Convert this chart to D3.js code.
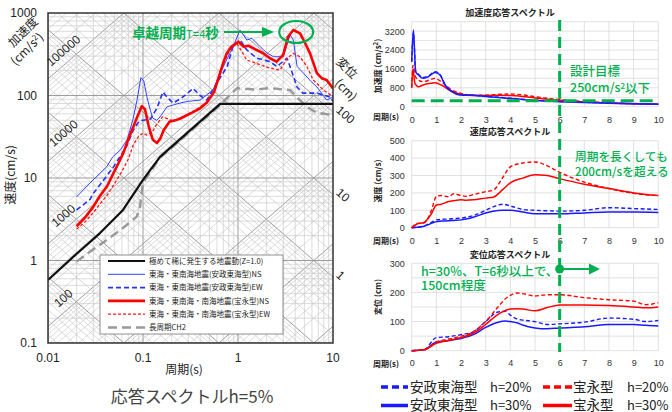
<!DOCTYPE html>
<html>
<head>
<meta charset="utf-8">
<script src="https://cdn.jsdelivr.net/npm/d3@7"></script>
<style>
  body { margin: 0; background: #fff; }
  svg { display: block; font-family: "Liberation Sans", Arial, "Noto Sans CJK JP", sans-serif; }
  .jp { font-family: "Noto Sans CJK JP", sans-serif; }
</style>
</head>
<body>
<svg id="chart" width="672" height="412"></svg>
<script>
// ---------- left chart : tripartite response spectrum (h=5%) ----------
const periodTicks = [0.01, 0.1, 1, 10];
const velTicks = [0.1, 1, 10, 100, 1000];
const accLabels = [100, 1000, 10000, 100000];
const dispLabels = [1, 10, 100];

const designT = [0.01, 0.0183, 0.0353, 0.0616, 0.1, 0.151, 0.29, 0.65, 10];
const designSv = [0.58, 1.1, 2.15, 4.1, 9.5, 18, 35, 79, 79];

const longT = [0.02, 0.0277, 0.0415, 0.0615, 0.086, 0.093, 0.1, 0.15, 0.29, 0.65, 0.78, 0.98, 1.5, 2.2, 3.0, 3.5, 4.5, 5.3, 6.7, 10];
const longSv = [0.97, 1.28, 1.77, 2.48, 3.4, 4.5, 8.7, 17.5, 34, 77, 95, 123, 118, 123, 118, 117, 88, 73, 62, 58];

const ansNsT = [0.02, 0.0277, 0.0415, 0.048, 0.058, 0.068, 0.078, 0.0865, 0.095, 0.102, 0.11, 0.12, 0.127, 0.14, 0.151, 0.179, 0.245, 0.3, 0.4, 0.546, 0.695, 0.886, 1.05, 1.24, 1.4, 1.71, 2.02, 2.37, 2.99, 3.53, 3.82, 4.19, 4.88, 5.8, 6.77, 8.57, 10];
const ansNsSv = [5.9, 8.7, 13.7, 18, 22, 29, 50, 88, 165, 150, 96, 65, 53, 50, 55, 73, 81, 85, 88, 117, 221, 387, 622, 471, 493, 391, 327, 295, 295, 541, 471, 225, 187, 150, 127, 88, 96];

const ansEwT = [0.02, 0.0277, 0.03, 0.04, 0.049, 0.067, 0.079, 0.09, 0.1, 0.12, 0.14, 0.162, 0.18, 0.207, 0.25, 0.29, 0.336, 0.4, 0.47, 0.6, 0.77, 0.886, 1.05, 1.24, 1.58, 2.17, 2.57, 3.28, 3.53, 4.18, 4.83, 6.77, 9.3, 10];
const ansEwSv = [4.1, 5.5, 6.5, 10, 13.7, 24, 38, 48, 50, 52, 70, 110, 95, 81, 92, 105, 122, 100, 88, 142, 225, 391, 471, 356, 283, 257, 225, 283, 225, 127, 107, 107, 96, 85];

const hoeiNsT = [0.02, 0.025, 0.03, 0.035, 0.042, 0.048, 0.055, 0.062, 0.068, 0.078, 0.088, 0.097, 0.105, 0.115, 0.127, 0.14, 0.152, 0.165, 0.19, 0.22, 0.25, 0.31, 0.4, 0.47, 0.56, 0.647, 0.7, 0.76, 0.85, 1.01, 1.14, 1.3, 1.57, 1.8, 2.17, 2.55, 2.99, 3.37, 3.82, 4.5, 5.1, 5.73, 6.77, 7.6, 8.57, 10];
const hoeiNsSv = [2.6, 3.4, 4.5, 6.0, 8.0, 11, 15, 20, 27, 40, 57, 74, 68, 42, 29, 26.5, 30, 38, 48, 50, 53, 60, 70, 82, 110, 187, 250, 324, 390, 449, 391, 400, 356, 330, 283, 257, 310, 516, 622, 567, 430, 324, 187, 162, 154, 122];

const hoeiEwT = [0.02, 0.025, 0.03, 0.035, 0.042, 0.05, 0.06, 0.07, 0.08, 0.09, 0.1, 0.11, 0.125, 0.14, 0.16, 0.2, 0.25, 0.3, 0.35, 0.47, 0.55, 0.65, 0.82, 0.97, 1.1, 1.23, 1.57, 2.17, 2.77, 3.3, 3.82, 4.5, 5.3, 6.2, 7.9, 10];
const hoeiEwSv = [2.4, 3.0, 3.8, 4.8, 6.2, 8.5, 12, 17, 26, 32, 35, 33, 36, 45, 55, 50, 52, 60, 66, 82, 105, 200, 356, 430, 340, 270, 245, 214, 204, 283, 324, 295, 225, 154, 117, 97];

const legendNames = [
  '極めて稀に発生する地震動(Z=1.0)',
  '東海・東南海地震(安政東海型)NS',
  '東海・東南海地震(安政東海型)EW',
  '東海・東南海・南海地震(宝永型)NS',
  '東海・東南海・南海地震(宝永型)EW',
  '長周期CH2'
];

// ---------- right charts : linear response spectra ----------
const linPeriods = [0, 1, 2, 3, 4, 5, 6, 7, 8, 9, 10];
const accTicks = [0, 800, 1600, 2400, 3200];
const velTicksR = [0, 100, 200, 300, 400, 500];
const dispTicks = [0, 100, 200, 300];

const accBlueT = [0, 0.07, 0.16, 0.27, 0.47, 0.67, 0.95, 1.15, 1.35, 1.62, 1.96, 2.43, 3, 4, 5, 6, 7, 8, 9, 10];
const accBlue30 = [1900, 3250, 1480, 1340, 1200, 1270, 1450, 1340, 920, 640, 500, 480, 430, 350, 260, 210, 180, 150, 120, 100];
const accBlue20 = [1900, 3150, 1520, 1380, 1240, 1300, 1480, 1360, 950, 660, 510, 490, 440, 360, 270, 220, 185, 155, 125, 105];
const accRedT = [0, 0.05, 0.13, 0.27, 0.47, 0.7, 0.95, 1.2, 1.6, 2.0, 2.5, 3, 3.5, 4, 4.5, 5, 6, 7, 8, 9, 10];
const accRed30 = [800, 1600, 990, 850, 920, 980, 1016, 920, 665, 525, 470, 470, 480, 470, 430, 370, 270, 200, 160, 130, 100];
const accRed20 = [800, 1750, 1340, 1130, 1060, 1120, 1200, 1060, 720, 560, 490, 490, 520, 540, 500, 420, 300, 220, 170, 135, 110];

const velT = [0, 0.2, 0.5, 0.8, 1, 1.2, 1.5, 1.7, 2, 2.2, 2.5, 3, 3.3, 3.7, 4, 4.5, 5, 5.5, 6, 7, 8, 9, 10];
const velRed20 = [0, 25, 28, 100, 180, 185, 178, 195, 185, 180, 190, 207, 215, 290, 350, 372, 378, 355, 318, 262, 225, 197, 185];
const velRed30 = [0, 20, 30, 80, 130, 135, 150, 155, 160, 158, 160, 170, 175, 220, 258, 285, 305, 300, 282, 250, 225, 200, 185];
const velBlue20 = [0, 3, 10, 30, 45, 48, 50, 52, 55, 60, 70, 100, 120, 135, 125, 105, 100, 97, 95, 100, 115, 110, 105];
const velBlue30 = [0, 2, 8, 25, 35, 38, 40, 42, 45, 50, 60, 85, 95, 100, 100, 90, 80, 80, 80, 85, 90, 90, 88];

const dispT = [0, 0.5, 1, 1.5, 2, 2.5, 3, 3.5, 3.8, 4, 4.3, 4.5, 5, 5.5, 6, 7, 8, 9, 9.5, 10];
const dispRed20 = [0, 3, 30, 40, 50, 65, 100, 150, 178, 190, 198, 196, 188, 192, 192, 182, 175, 170, 158, 165];
const dispRed30 = [0, 3, 25, 35, 45, 60, 90, 125, 138, 143, 144, 143, 137, 148, 157, 157, 155, 150, 147, 150];
const dispBlue20 = [0, 3, 45, 48, 55, 65, 100, 133, 135, 122, 108, 105, 100, 90, 92, 98, 112, 108, 100, 104];
const dispBlue30 = [0, 3, 30, 35, 42, 55, 80, 98, 102, 100, 95, 88, 78, 75, 78, 82, 90, 90, 87, 85];

const designPeriod = 6;     // vertical green marker
const accTarget = 250;      // design target line

const GREEN = '#00b050';
const svg = d3.select('#chart');
const defs = svg.append('defs');

// ================= left chart =================
const tx = d3.scaleLog().domain([0.01, 10]).range([48, 333]);
const sy = d3.scaleLog().domain([0.1, 1000]).range([343, 13]);
const TWO_PI = 2 * Math.PI;

defs.append('clipPath').attr('id', 'clipL')
  .append('rect').attr('x', 48).attr('y', 13).attr('width', 285).attr('height', 330);

function decadeVals(lo, hi) {
  const out = [];
  for (let e = lo; e <= hi; e++)
    for (let k = 1; k < 10; k++) out.push({ v: k * Math.pow(10, e), major: k === 1 });
  return out;
}

const grid = svg.append('g').attr('clip-path', 'url(#clipL)');
const gStroke = d => d.major ? '#939393' : '#c4c4c4';
const gWidth = d => d.major ? 0.9 : 0.6;

// diagonals: acceleration (up-right) and displacement (down-right)
grid.selectAll('.acc').data(decadeVals(-2, 5)).enter().append('line')
  .attr('x1', tx(0.01)).attr('y1', d => sy(d.v * 0.01 / TWO_PI))
  .attr('x2', tx(10)).attr('y2', d => sy(d.v * 10 / TWO_PI))
  .attr('stroke', gStroke).attr('stroke-width', gWidth);
grid.selectAll('.disp').data(decadeVals(-4, 3)).enter().append('line')
  .attr('x1', tx(0.01)).attr('y1', d => sy(TWO_PI * d.v / 0.01))
  .attr('x2', tx(10)).attr('y2', d => sy(TWO_PI * d.v / 10))
  .attr('stroke', gStroke).attr('stroke-width', gWidth);
grid.selectAll('.vx').data(decadeVals(-2, 0)).enter().append('line')
  .attr('x1', d => tx(d.v)).attr('x2', d => tx(d.v))
  .attr('y1', 13).attr('y2', 343)
  .attr('stroke', gStroke).attr('stroke-width', gWidth);
grid.selectAll('.hy').data(decadeVals(-1, 2)).enter().append('line')
  .attr('y1', d => sy(d.v)).attr('y2', d => sy(d.v))
  .attr('x1', 48).attr('x2', 333)
  .attr('stroke', gStroke).attr('stroke-width', gWidth);

// diagonal scale labels
const accLabelT = 0.0145;
svg.selectAll('.accLab').data(accLabels).enter().append('text')
  .attr('transform', d => `translate(${tx(accLabelT)},${sy(d * accLabelT / TWO_PI) - 15}) rotate(-41)`)
  .attr('text-anchor', 'middle').attr('dy', '0.35em')
  .attr('font-size', 12).attr('fill', '#222').text(d => d);
svg.selectAll('.dispLab').data(dispLabels).enter().append('text')
  .attr('transform', d => `translate(${tx(10) + 5},${sy(TWO_PI * d / 10) - 4}) rotate(41)`)
  .attr('text-anchor', 'start').attr('dy', '0.35em')
  .attr('font-size', 12).attr('fill', '#222').text(d => d);

// curves
const lineL = d3.line().x(d => tx(d[0])).y(d => sy(d[1]));
const leftSeries = [
  { t: longT, v: longSv, color: '#999', w: 2.4, dash: '9,5' },
  { t: designT, v: designSv, color: '#111', w: 2.2, dash: null },
  { t: ansEwT, v: ansEwSv, color: '#2233ff', w: 1.6, dash: '5,3' },
  { t: ansNsT, v: ansNsSv, color: '#3344ff', w: 1, dash: null },
  { t: hoeiEwT, v: hoeiEwSv, color: '#ff1a1a', w: 1.3, dash: '3,2' },
  { t: hoeiNsT, v: hoeiNsSv, color: '#ff0000', w: 2.6, dash: null }
];
const curves = svg.append('g').attr('clip-path', 'url(#clipL)');
leftSeries.forEach(s => {
  curves.append('path').datum(d3.zip(s.t, s.v))
    .attr('d', lineL).attr('fill', 'none')
    .attr('stroke', s.color).attr('stroke-width', s.w)
    .attr('stroke-dasharray', s.dash).attr('stroke-linejoin', 'round');
});

// frame
svg.append('rect').attr('x', 48).attr('y', 13).attr('width', 285).attr('height', 330)
  .attr('fill', 'none').attr('stroke', '#333').attr('stroke-width', 1.5);

// axes labels
svg.selectAll('.yl').data(velTicks).enter().append('text')
  .attr('x', 37).attr('y', d => sy(d)).attr('dy', '0.35em')
  .attr('text-anchor', 'end').attr('font-size', 12).attr('fill', '#222')
  .text(d => d);
svg.selectAll('.xl').data(periodTicks).enter().append('text')
  .attr('x', d => tx(d)).attr('y', 358).attr('dy', '0.35em')
  .attr('text-anchor', 'middle').attr('font-size', 12).attr('fill', '#222')
  .text(d => d);

svg.append('text').attr('class', 'jp').attr('x', 184).attr('y', 370).attr('dy', '0.35em')
  .attr('text-anchor', 'middle').attr('font-size', 12).attr('fill', '#222').text('周期(s)');
svg.append('text').attr('class', 'jp')
  .attr('transform', 'translate(11,175) rotate(-90)').attr('dy', '0.35em')
  .attr('text-anchor', 'middle').attr('font-size', 12).attr('fill', '#222').text('速度(cm/s)');
svg.append('text').attr('class', 'jp')
  .attr('transform', 'translate(23,32) rotate(-45)').attr('dy', '0.35em')
  .attr('text-anchor', 'middle').attr('font-size', 12).attr('fill', '#222').text('加速度');
const accUnit = svg.append('text').attr('class', 'jp')
  .attr('transform', 'translate(27,49) rotate(-45)').attr('dy', '0.35em')
  .attr('text-anchor', 'middle').attr('font-size', 12).attr('fill', '#222');
accUnit.append('tspan').text('(cm/s');
accUnit.append('tspan').attr('font-size', 8).attr('dy', '-0.5em').text('2');
accUnit.append('tspan').attr('dy', '0.35em').text(')');
svg.append('text').attr('class', 'jp')
  .attr('transform', 'translate(347,68) rotate(45)').attr('dy', '0.35em')
  .attr('text-anchor', 'middle').attr('font-size', 12).attr('fill', '#222').text('変位');
svg.append('text').attr('class', 'jp')
  .attr('transform', 'translate(346,90) rotate(45)').attr('dy', '0.35em')
  .attr('text-anchor', 'middle').attr('font-size', 12).attr('fill', '#222').text('(cm)');

svg.append('text').attr('class', 'jp').attr('x', 192).attr('y', 397).attr('dy', '0.35em')
  .attr('text-anchor', 'middle').attr('font-size', 17).attr('fill', '#444').text('応答スペクトルh=5%');

// legend
const leg = svg.append('g');
leg.append('rect').attr('x', 100).attr('y', 255).attr('width', 183).attr('height', 79)
  .attr('fill', '#fff').attr('stroke', '#777').attr('stroke-width', 0.8);
const legStyles = [leftSeries[1], leftSeries[3], leftSeries[2], leftSeries[5], leftSeries[4], leftSeries[0]];
legendNames.forEach((name, i) => {
  const y = 261 + i * 13.3;
  const s = legStyles[i];
  leg.append('line').attr('x1', 108).attr('x2', 145).attr('y1', y).attr('y2', y)
    .attr('stroke', s.color).attr('stroke-width', s.w).attr('stroke-dasharray', s.dash);
  leg.append('text').attr('class', 'jp').attr('x', 149).attr('y', y).attr('dy', '0.35em')
    .attr('font-size', 7.5).attr('fill', '#222').text(name);
});

// dominant period annotation
const ann = svg.append('text').attr('class', 'jp').attr('x', 132).attr('y', 33).attr('dy', '0.35em')
  .attr('fill', GREEN).attr('font-weight', 'bold').attr('font-size', 13.5);
ann.append('tspan').text('卓越周期');
ann.append('tspan').attr('font-size', 11).attr('font-weight', 'normal').attr('font-family', 'Liberation Sans, Arial').text('T=4');
ann.append('tspan').text('秒');
svg.append('line').attr('x1', 224).attr('x2', 264).attr('y1', 32).attr('y2', 32)
  .attr('stroke', GREEN).attr('stroke-width', 2);
svg.append('path').attr('d', d3.line()([[262, 27], [274, 32], [262, 37]])).attr('fill', GREEN);
svg.append('ellipse').attr('cx', tx(4.1)).attr('cy', 32).attr('rx', 17).attr('ry', 11)
  .attr('fill', 'none').attr('stroke', GREEN).attr('stroke-width', 2.2);

// ================= right charts =================
const xr = d3.scaleLinear().domain([0, 10]).range([411.7, 658.3]);
const lineKinds = {
  blue20: { color: '#1a1aff', dash: '4,2.5', w: 1.4 },
  blue30: { color: '#1a1aff', dash: null, w: 1.5 },
  red20: { color: '#ff0000', dash: '4,2.5', w: 1.4 },
  red30: { color: '#ff0000', dash: null, w: 1.5 }
};

function panel(cfg) {
  const y = d3.scaleLinear().domain([0, cfg.max]).range([cfg.bottom, cfg.top]);
  const g = svg.append('g');
  g.selectAll('.hg').data(d3.range(0, cfg.max + 0.1, cfg.gridStep)).enter().append('line')
    .attr('x1', xr(0)).attr('x2', xr(10)).attr('y1', d => y(d)).attr('y2', d => y(d))
    .attr('stroke', '#d9d9d9').attr('stroke-width', 0.8);
  g.selectAll('.vg').data(linPeriods).enter().append('line')
    .attr('x1', d => xr(d)).attr('x2', d => xr(d)).attr('y1', y(0)).attr('y2', y(cfg.max))
    .attr('stroke', '#d9d9d9').attr('stroke-width', 0.8);

  const ya = g.append('g').attr('transform', `translate(${xr(0)},0)`)
    .call(d3.axisLeft(y).tickValues(cfg.ticks).tickFormat(d3.format('d')).tickSize(0).tickPadding(7));
  ya.select('.domain').remove();
  ya.selectAll('text').attr('font-size', 9).attr('fill', '#333')
    .attr('font-family', 'Liberation Sans, Arial');
  const xa = g.append('g').attr('transform', `translate(0,${cfg.bottom})`)
    .call(d3.axisBottom(xr).tickValues(linPeriods).tickSize(0).tickPadding(cfg.xPad));
  xa.select('.domain').remove();
  xa.selectAll('text').attr('font-size', 9).attr('fill', '#333')
    .attr('font-family', 'Liberation Sans, Arial');

  g.append('text').attr('class', 'jp').attr('x', 510).attr('y', cfg.titleY).attr('dy', '0.35em')
    .attr('text-anchor', 'middle').attr('font-size', 9).attr('font-weight', 'bold')
    .attr('fill', '#222').text(cfg.title);
  g.append('text').attr('class', 'jp').attr('x', 386).attr('y', cfg.periodY).attr('dy', '0.35em')
    .attr('text-anchor', 'middle').attr('font-size', 8).attr('font-weight', 'bold')
    .attr('fill', '#222').text('周期(s)');
  const yt = g.append('text').attr('class', 'jp')
    .attr('transform', `translate(378,${cfg.yTitleY}) rotate(-90)`).attr('dy', '0.35em')
    .attr('text-anchor', 'middle').attr('font-size', 8).attr('font-weight', 'bold').attr('fill', '#222');
  yt.append('tspan').text(cfg.yTitle);
  if (cfg.sup) {
    yt.append('tspan').attr('font-size', 6).attr('dy', '-0.5em').text(cfg.sup);
    yt.append('tspan').attr('dy', '0.35em').text(')');
  }

  const ln = d3.line().x(d => xr(d[0])).y(d => y(d[1])).curve(d3.curveMonotoneX);
  cfg.series.forEach(s => {
    const k = lineKinds[s.kind];
    g.append('path').datum(d3.zip(s.t, s.v)).attr('d', ln).attr('fill', 'none')
      .attr('stroke', k.color).attr('stroke-width', k.w).attr('stroke-dasharray', k.dash);
  });
  return y;
}

const yAcc = panel({
  top: 21.7, bottom: 106.7, max: 3600, gridStep: 400, ticks: accTicks, xPad: 10,
  title: '加速度応答スペクトル', titleY: 13, periodY: 117, yTitle: '加速度 (cm/s', sup: '2', yTitleY: 66,
  series: [
    { kind: 'red20', t: accRedT, v: accRed20 },
    { kind: 'red30', t: accRedT, v: accRed30 },
    { kind: 'blue20', t: accBlueT, v: accBlue20 },
    { kind: 'blue30', t: accBlueT, v: accBlue30 }
  ]
});
panel({
  top: 140.7, bottom: 227.7, max: 500, gridStep: 100, ticks: velTicksR, xPad: 10,
  title: '速度応答スペクトル', titleY: 132, periodY: 241, yTitle: '速度 (cm/s)', yTitleY: 181,
  series: [
    { kind: 'blue20', t: velT, v: velBlue20 },
    { kind: 'blue30', t: velT, v: velBlue30 },
    { kind: 'red20', t: velT, v: velRed20 },
    { kind: 'red30', t: velT, v: velRed30 }
  ]
});
panel({
  top: 263.3, bottom: 350.7, max: 300, gridStep: 50, ticks: dispTicks, xPad: 9,
  title: '変位応答スペクトル', titleY: 255, periodY: 364, yTitle: '変位 (cm)', yTitleY: 297,
  series: [
    { kind: 'blue20', t: dispT, v: dispBlue20 },
    { kind: 'blue30', t: dispT, v: dispBlue30 },
    { kind: 'red20', t: dispT, v: dispRed20 },
    { kind: 'red30', t: dispT, v: dispRed30 }
  ]
});

// green design markers
svg.append('line').attr('x1', xr(0)).attr('x2', xr(10))
  .attr('y1', yAcc(accTarget)).attr('y2', yAcc(accTarget))
  .attr('stroke', GREEN).attr('stroke-width', 3).attr('stroke-dasharray', '13,6');
svg.append('line').attr('x1', xr(designPeriod)).attr('x2', xr(designPeriod))
  .attr('y1', 20).attr('y2', 352)
  .attr('stroke', GREEN).attr('stroke-width', 3).attr('stroke-dasharray', '11,6');

const gtxt = (x, y, size, parts) => {
  const t = svg.append('text').attr('class', 'jp').attr('x', x).attr('y', y).attr('dy', '0.35em')
    .attr('fill', GREEN).attr('font-size', size).attr('font-weight', 500);
  parts.forEach(p => {
    const s = t.append('tspan').text(p.s);
    if (p.sup) s.attr('font-size', 8).attr('dy', '-0.45em');
    if (p.down) s.attr('dy', '0.3em');
  });
};
gtxt(570, 72, 12.5, [{ s: '設計目標' }]);
gtxt(570, 88, 12.5, [{ s: '250cm/s' }, { s: '2', sup: true }, { s: '以下', down: true }]);
gtxt(575, 157, 11.7, [{ s: '周期を長くしても' }]);
gtxt(575, 172, 11.7, [{ s: '200cm/sを超える' }]);
gtxt(421, 272, 12.5, [{ s: 'h=30%、T=6秒以上で、' }]);
gtxt(421, 286, 12.5, [{ s: '150cm程度' }]);

svg.append('circle').attr('cx', xr(designPeriod)).attr('cy', 269).attr('r', 4.5).attr('fill', GREEN);
svg.append('line').attr('x1', xr(designPeriod)).attr('x2', 592).attr('y1', 269).attr('y2', 269)
  .attr('stroke', GREEN).attr('stroke-width', 2.2);
svg.append('path').attr('d', d3.line()([[589, 263.5], [600, 269], [589, 274.5]])).attr('fill', GREEN);

// bottom legend
const legItems = [
  { kind: 'blue20', name: '安政東海型', h: 'h=20%', col: 0, row: 0 },
  { kind: 'red20', name: '宝永型', h: 'h=20%', col: 1, row: 0 },
  { kind: 'blue30', name: '安政東海型', h: 'h=30%', col: 0, row: 1 },
  { kind: 'red30', name: '宝永型', h: 'h=30%', col: 1, row: 1 }
];
const legCols = [{ x0: 381, x1: 408, tx: 410, hx: 490 }, { x0: 543, x1: 572, tx: 573, hx: 627 }];
legItems.forEach(it => {
  const c = legCols[it.col];
  const y = 387 + it.row * 18.5;
  const k = lineKinds[it.kind];
  svg.append('line').attr('x1', c.x0).attr('x2', c.x1).attr('y1', y).attr('y2', y)
    .attr('stroke', k.color).attr('stroke-width', 3.5)
    .attr('stroke-dasharray', k.dash ? '7,4' : null);
  svg.append('text').attr('class', 'jp').attr('x', c.tx).attr('y', y).attr('dy', '0.35em')
    .attr('font-size', 13.5).attr('fill', '#222').text(it.name);
  svg.append('text').attr('class', 'jp').attr('x', c.hx).attr('y', y).attr('dy', '0.35em')
    .attr('font-size', 13).attr('fill', '#222').text(it.h);
});
</script>
</body>
</html>
